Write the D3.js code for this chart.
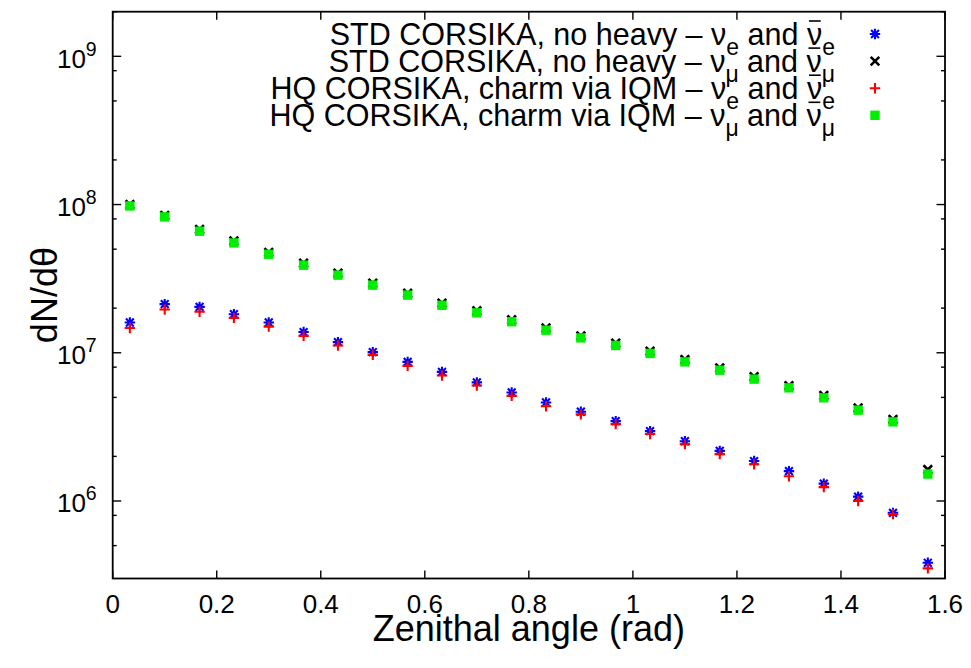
<!DOCTYPE html>
<html>
<head>
<meta charset="utf-8">
<script src="https://cdn.jsdelivr.net/npm/d3@7/dist/d3.min.js"></script>
<style>
  body { margin: 0; background: #fff; }
  svg { display: block; }
  text { font-family: "Liberation Sans", Arial, Helvetica, sans-serif; fill: #000; }
</style>
</head>
<body>
<div id="chart"></div>
<script>
/* Zenith angle bin centres (rad) */
var angles = [0.033, 0.1, 0.167, 0.233, 0.3, 0.367, 0.433, 0.5, 0.567, 0.633, 0.7, 0.767,
  0.833, 0.9, 0.967, 1.033, 1.1, 1.167, 1.233, 1.3, 1.367, 1.433, 1.5, 1.567];

/* dN/dtheta per series */
var stdNuE = [1.60e7, 2.13e7, 2.04e7, 1.82e7, 1.60e7, 1.38e7, 1.18e7, 1.01e7, 8.68e6, 7.43e6, 6.31e6, 5.40e6,
  4.62e6, 4.00e6, 3.46e6, 2.96e6, 2.53e6, 2.18e6, 1.86e6, 1.59e6, 1.31e6, 1.07e6, 8.32e5, 3.83e5];
var stdNuMu = [1.00e8, 8.45e7, 6.80e7, 5.68e7, 4.75e7, 4.02e7, 3.44e7, 2.95e7, 2.52e7, 2.16e7, 1.92e7, 1.67e7,
  1.47e7, 1.30e7, 1.16e7, 1.025e7, 9.0e6, 7.9e6, 6.9e6, 6.0e6, 5.15e6, 4.25e6, 3.55e6, 1.63e6];
var hqNuE = [1.47e7, 1.96e7, 1.89e7, 1.72e7, 1.50e7, 1.30e7, 1.12e7, 9.68e6, 8.16e6, 7.03e6, 6.02e6, 5.12e6,
  4.36e6, 3.84e6, 3.30e6, 2.83e6, 2.42e6, 2.07e6, 1.77e6, 1.47e6, 1.24e6, 1.00e6, 8.16e5, 3.51e5];
var hqNuMu = [9.78e7, 8.25e7, 6.61e7, 5.51e7, 4.62e7, 3.90e7, 3.34e7, 2.86e7, 2.45e7, 2.09e7, 1.86e7, 1.62e7,
  1.42e7, 1.26e7, 1.12e7, 9.9e6, 8.68e6, 7.63e6, 6.64e6, 5.80e6, 4.97e6, 4.10e6, 3.42e6, 1.52e6];

/* Axis ticks */
var xTicks = [0, 0.2, 0.4, 0.6, 0.8, 1, 1.2, 1.4, 1.6];
var xTickLabels = ['0', '0.2', '0.4', '0.6', '0.8', '1', '1.2', '1.4', '1.6'];
var yDecades = [6, 7, 8, 9];
var yMinorMultipliers = [2, 5, 8];
var yDomain = [3e5, 2e9];

/* Legend labels: pieces [text, style] with style '' | 'sub' | 'bar' */
var legendLabels = [
  [['STD CORSIKA, no heavy \u2013 ', ''], ['\u03bd', ''], ['e', 'sub'], [' and ', ''], ['\u03bd', 'bar'], ['e', 'sub']],
  [['STD CORSIKA, no heavy \u2013 ', ''], ['\u03bd', ''], ['\u03bc', 'sub'], [' and ', ''], ['\u03bd', 'bar'], ['\u03bc', 'sub']],
  [['HQ CORSIKA, charm via IQM \u2013 ', ''], ['\u03bd', ''], ['e', 'sub'], [' and ', ''], ['\u03bd', 'bar'], ['e', 'sub']],
  [['HQ CORSIKA, charm via IQM \u2013 ', ''], ['\u03bd', ''], ['\u03bc', 'sub'], [' and ', ''], ['\u03bd', 'bar'], ['\u03bc', 'sub']]
];

var series = [
  { values: stdNuE, color: '#0000ff', marker: 'star' },
  { values: stdNuMu, color: '#000000', marker: 'cross' },
  { values: hqNuE, color: '#ff0000', marker: 'plus' },
  { values: hqNuMu, color: '#00ee00', marker: 'square' }
];

var W = 971, H = 668;
var m = { top: 11.7, right: 26, bottom: 89.5, left: 112.7 };
var innerW = W - m.left - m.right;
var innerH = H - m.top - m.bottom;

var x = d3.scaleLinear().domain([0, 1.6]).range([0, innerW]);
var y = d3.scaleLog().domain(yDomain).range([innerH, 0]);

var svg = d3.select('#chart').append('svg')
  .attr('width', W).attr('height', H);

var g = svg.append('g').attr('transform', 'translate(' + m.left + ',' + m.top + ')');

/* Marker path generator (r = half width) */
function markerPath(type, r) {
  if (type === 'plus') return 'M' + (-r) + ',0H' + r + 'M0,' + (-r) + 'V' + r;
  if (type === 'cross') return 'M' + (-r) + ',' + (-r) + 'L' + r + ',' + r + 'M' + (-r) + ',' + r + 'L' + r + ',' + (-r);
  if (type === 'star') {
    var d = r * 0.75;
    return 'M' + (-r) + ',0H' + r + 'M0,' + (-r) + 'V' + r +
      'M' + (-d) + ',' + (-d) + 'L' + d + ',' + d + 'M' + (-d) + ',' + d + 'L' + d + ',' + (-d);
  }
  return 'M' + (-r) + ',' + (-r) + 'H' + r + 'V' + r + 'H' + (-r) + 'Z';
}

function drawMarker(sel, s) {
  if (s.marker === 'square') {
    sel.attr('d', markerPath('square', 4.7)).attr('fill', s.color).attr('stroke', 'none');
  } else {
    var r = s.marker === 'cross' ? 4.3 : 5.2;
    sel.attr('d', markerPath(s.marker, r)).attr('fill', 'none')
      .attr('stroke', s.color).attr('stroke-width', s.marker === 'cross' ? 2.6 : 2.1);
  }
}

/* Tick positions on the log axis: decades + 2, 5, 8 minors */
var yMinor = [];
[5, 6, 7, 8, 9].forEach(function (e) {
  yMinorMultipliers.forEach(function (k) {
    var v = k * Math.pow(10, e);
    if (v >= yDomain[0] && v <= yDomain[1]) yMinor.push(v);
  });
});
var yMajor = yDecades.map(function (e) { return Math.pow(10, e); });

/* Inward ticks, mirrored on all four sides */
var ticks = g.append('g').attr('stroke', '#000').attr('stroke-width', 1.4);
xTicks.forEach(function (t) {
  ticks.append('line').attr('x1', x(t)).attr('x2', x(t)).attr('y1', innerH).attr('y2', innerH - 8);
  ticks.append('line').attr('x1', x(t)).attr('x2', x(t)).attr('y1', 0).attr('y2', 8);
});
yMajor.forEach(function (v) {
  ticks.append('line').attr('x1', 0).attr('x2', 8.5).attr('y1', y(v)).attr('y2', y(v));
  ticks.append('line').attr('x1', innerW).attr('x2', innerW - 8.5).attr('y1', y(v)).attr('y2', y(v));
});
yMinor.forEach(function (v) {
  ticks.append('line').attr('x1', 0).attr('x2', 4).attr('y1', y(v)).attr('y2', y(v));
  ticks.append('line').attr('x1', innerW).attr('x2', innerW - 4).attr('y1', y(v)).attr('y2', y(v));
});

/* X tick labels */
g.append('g').selectAll('text')
  .data(xTicks)
  .join('text')
  .attr('x', function (d) { return x(d); })
  .attr('y', innerH + 35)
  .attr('text-anchor', 'middle')
  .attr('font-size', '26px')
  .text(function (d, i) { return xTickLabels[i]; });

/* Y tick labels 10^n */
var yl = g.append('g').selectAll('text')
  .data(yDecades)
  .join('text')
  .attr('x', -16)
  .attr('y', function (d) { return y(Math.pow(10, d)) + 11.5; })
  .attr('text-anchor', 'end')
  .attr('font-size', '26px');
yl.append('tspan').text('10');
yl.append('tspan').attr('dy', -12).attr('font-size', '19.5px').text(function (d) { return d; });

/* Axis titles */
svg.append('text')
  .attr('x', m.left + innerW / 2)
  .attr('y', 641)
  .attr('text-anchor', 'middle')
  .attr('font-size', '36px')
  .text('Zenithal angle (rad)');

svg.append('text')
  .attr('transform', 'translate(' + 57 + ',' + (m.top + innerH / 2) + ') rotate(-90)')
  .attr('text-anchor', 'middle')
  .attr('font-size', '36px')
  .text('dN/d\u03b8');

/* Data markers, plotted in series order */
series.forEach(function (s) {
  g.append('g').selectAll('path')
    .data(s.values)
    .join('path')
    .attr('transform', function (d, i) { return 'translate(' + x(angles[i]) + ',' + y(d) + ')'; })
    .call(drawMarker, s);
});

/* Legend */
var key = svg.append('g');
var keyTextX = 835, keySymX = 875, keyTop = 34, keyStep = 27.1;
legendLabels.forEach(function (parts, i) {
  var cy = keyTop + i * keyStep;
  var t = key.append('text')
    .attr('x', keyTextX)
    .attr('y', cy + 10.5)
    .attr('text-anchor', 'end')
    .attr('font-size', '30.5px');
  var shift = 0, barIdx = [], pos = 0;
  parts.forEach(function (p) {
    var ts = t.append('tspan').text(p[0]);
    if (p[1] === 'sub') {
      ts.attr('font-size', '23px').attr('dy', 10.5 - shift);
      shift = 10.5;
    } else if (shift) {
      ts.attr('dy', -shift);
      shift = 0;
    }
    if (p[1] === 'bar') barIdx.push(pos);
    pos += p[0].length;
  });
  barIdx.forEach(function (ci) {
    var box = t.node().getExtentOfChar(ci);
    key.append('line')
      .attr('x1', box.x + 2).attr('x2', box.x + box.width - 1.5)
      .attr('y1', cy - 13).attr('y2', cy - 13)
      .attr('stroke', '#000').attr('stroke-width', 1.6);
  });
  key.append('path')
    .attr('transform', 'translate(' + keySymX + ',' + cy + ')')
    .call(drawMarker, series[i]);
});

/* Border */
g.append('rect')
  .attr('width', innerW).attr('height', innerH)
  .attr('fill', 'none').attr('stroke', '#000').attr('stroke-width', 1.8);
</script>
</body>
</html>
